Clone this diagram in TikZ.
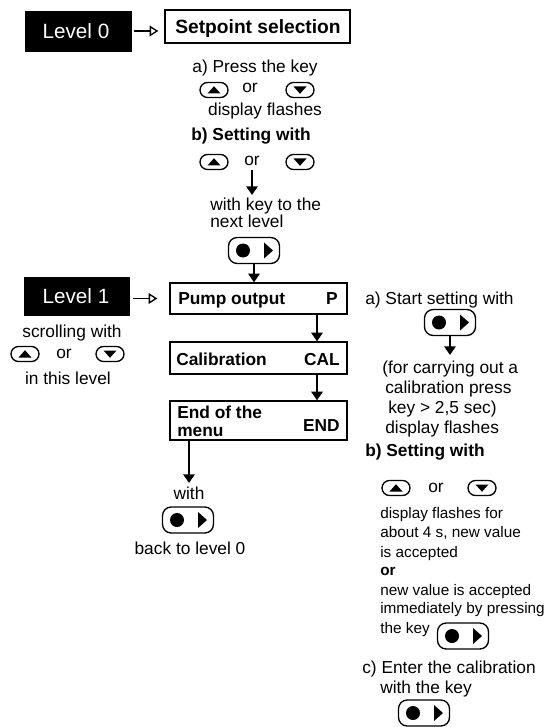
\documentclass[tikz,border=0pt]{standalone}
\usepackage{fontspec}
\setmainfont{Liberation Sans}
\usetikzlibrary{arrows.meta,fit,calc}
\begin{document}
\begin{tikzpicture}[x=0.75pt,y=-0.75pt,
  txt/.style={inner sep=0, font=\fontsize{13}{15}\selectfont},
  sml/.style={inner sep=0, font=\fontsize{11.5}{13}\selectfont},
  bld/.style={inner sep=0, font=\fontsize{13}{15}\selectfont\bfseries},
  lvl/.style={fill=black, draw=black, inner sep=0},
  lvltxt/.style={inner sep=0, text=white, font=\fontsize{15.5}{17}\selectfont},
  box/.style={draw, line width=1pt, inner sep=0},
  key/.style={draw, line width=1pt, rounded corners=5.6pt, inner sep=0, minimum width=21pt, minimum height=11.25pt},
  upkey/.style={key, path picture={\fill[sharp corners, shift={(path picture bounding box.center)}] (-6.5,3.5)--(6.5,3.5)--(0,-3.8)--cycle;}},
  dnkey/.style={key, path picture={\fill[sharp corners, shift={(path picture bounding box.center)}] (-6.5,-3.5)--(6.5,-3.5)--(0,3.8)--cycle;}},
  entkey/.style={draw, line width=1pt, rounded corners=6.5pt, inner sep=0, minimum width=38.25pt, minimum height=19.5pt,
    path picture={\fill[sharp corners, shift={(path picture bounding box.center)}] (-11,0) circle[radius=7] (10,-8)--(10,8)--(19,0)--cycle;}},
  darr/.style={line width=1.5pt, -{Triangle[width=8.5pt,length=6.5pt]}},
  oarr/.style={line width=1pt, -{Triangle[open,width=8pt,length=6.5pt]}},
]
\useasboundingbox (0,0) rectangle (550,727);

% ---- Level 0
\node[lvl, fit={(25,11) (131,51)}] (l0) {};
\node[lvltxt, anchor=base] (l0t) at (76,38.5) {Level 0};
\node[box, fit={(165,10) (350,43)}] (sp) {};
\node[inner sep=0, font=\fontsize{14.4}{16}\selectfont\bfseries, anchor=base] (spt) at (258,34) {Setpoint selection};
\draw[oarr, shorten <=2.25pt, shorten >=4.5pt] (l0.east) -- (l0.east -| sp.west);

\node[txt, anchor=base] (a1) at (255,73) {a) Press the key};
\node[upkey] (u1) at (214,90) {};
\node[txt, anchor=base] (or1) at (250,93) {or};
\node[dnkey] (d1) at (300,90) {};
\node[txt, anchor=base] (df1) at (265,116) {display flashes};
\node[bld, anchor=base] (b1) at (251,141) {b) Setting with};
\node[upkey] (u2) at (214,162) {};
\node[txt, anchor=base] (or2) at (252,166) {or};
\node[dnkey] (d2) at (300,162) {};
\coordinate (w0) at (252,195);
\draw[darr] ([yshift=-3pt]or2.south) -- (w0);
\node[txt, anchor=base west] (wk1) at (210,210) {with key to the};
\node[txt, anchor=base west] (wk2) at (210,228) {next level};
\node[entkey] (e1) at (254,250.5) {};

% ---- Level 1 menu
\node[box, fit={(170,283) (347,314)}] (pump) {};
\draw[darr] (e1.south) -- (e1.south |- pump.north);
\node[bld, anchor=base west] (pumpt) at (178,304) {Pump output};
\node[bld, anchor=base east] (pumpc) at (338,304) {P};
\node[lvl, fit={(24,277) (129,315)}] (l1) {};
\node[lvltxt, anchor=base] (l1t) at (76,303.5) {Level 1};
\draw[oarr, shorten <=3pt, shorten >=9pt] (pump.west -| l1.east) -- (pump.west);

\node[box, fit={(170,342) (347,374)}] (cal) {};
\node[bld, anchor=base west] (calt) at (176,365) {Calibration};
\node[bld, anchor=base east] (calc) at (340,365) {CAL};
\coordinate (cx) at (317,0);
\draw[darr] (pump.south -| cx) -- (cal.north -| cx);

\node[box, fit={(170,401) (347,440)}] (endb) {};
\node[bld, anchor=base west] (endt1) at (177,418) {End of the};
\node[bld, anchor=base west] (endt2) at (177,436) {menu};
\node[bld, anchor=base east] (endc) at (340,431) {END};
\draw[darr] (cal.south -| cx) -- (endb.north -| cx);

\coordinate (cl) at (189,0);
\coordinate (w1) at (189,483);
\draw[darr] (endb.south -| cl) -- (w1);
\node[txt, anchor=base] (with1) at (189,499) {with};
\node[entkey] (e2) at (188,520) {};
\node[txt, anchor=base] (back) at (190,554) {back to level 0};

% ---- left notes
\node[txt, anchor=base] (scr) at (72,337) {scrolling with};
\node[upkey] (u3) at (25,354) {};
\node[txt, anchor=base] (or3) at (64,358) {or};
\node[dnkey] (d3) at (110,354) {};
\node[txt, anchor=base] (itl) at (68,384) {in this level};

% ---- right notes
\node[txt, anchor=base west] (r1) at (365,304) {a) Start setting with};
\node[entkey] (e3) at (450,322.5) {};
\coordinate (w2) at (450,355);
\draw[darr] (e3.south) -- (w2);
\node[txt, anchor=base west] (r2) at (382,373) {(for carrying out a};
\node[txt, anchor=base west] (r3) at (385,393) {calibration press};
\node[txt, anchor=base west] (r4) at (388,413) {key > 2,5 sec)};
\node[txt, anchor=base west] (r5) at (385,433) {display flashes};
\node[bld, anchor=base west] (r6) at (365,456) {b) Setting with};
\node[upkey] (u4) at (396,488) {};
\node[txt, anchor=base] (or4) at (436,492) {or};
\node[dnkey] (d4) at (482,488) {};
\node[sml, anchor=base west] (s1) at (380,518) {display flashes for};
\node[sml, anchor=base west] (s2) at (380,537) {about 4 s, new value};
\node[sml, anchor=base west] (s3) at (380,557) {is accepted};
\node[sml, font=\fontsize{11.5}{13}\selectfont\bfseries, anchor=base west] (s4) at (380,575) {or};
\node[sml, anchor=base west] (s5) at (380,595) {new value is accepted};
\node[sml, anchor=base west] (s6) at (380,613) {immediately by pressing};
\node[sml, anchor=base west] (s7) at (380,633) {the key};
\node[entkey] (e4) at (463,636) {};
\node[txt, anchor=base west] (c1) at (362,673) {c) Enter the calibration};
\node[txt, anchor=base west] (c2) at (380,693) {with the key};
\node[entkey] (e5) at (424,713) {};
\end{tikzpicture}
\end{document}
